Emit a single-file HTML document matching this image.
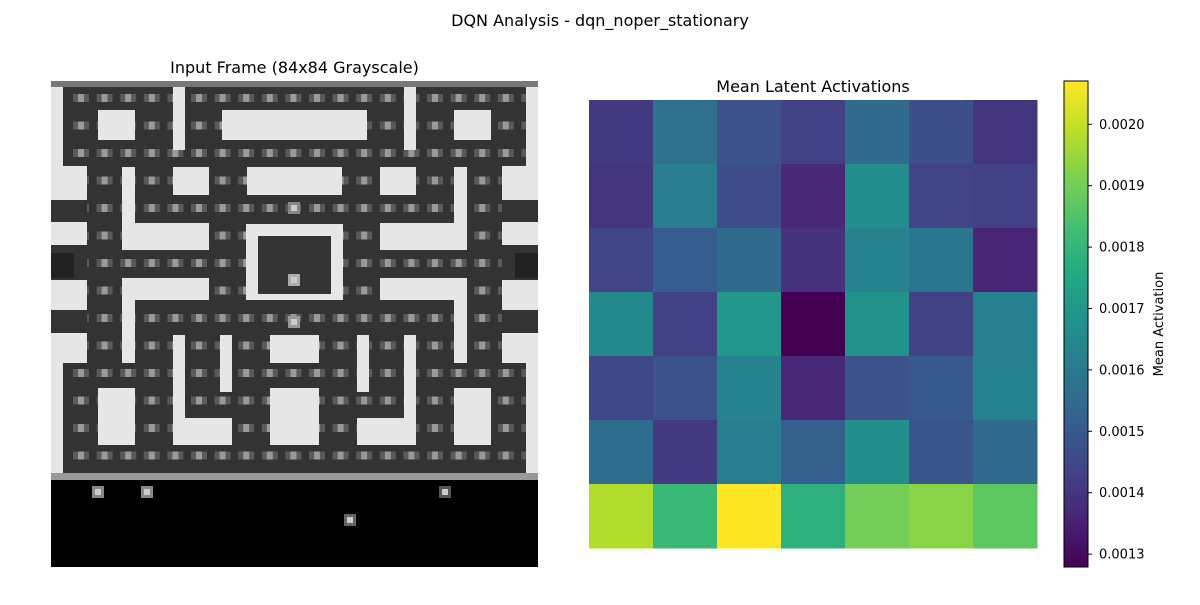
<!DOCTYPE html>
<html><head><meta charset="utf-8">
<style>
body{margin:0;background:#fff;font-family:"Liberation Sans","DejaVu Sans",sans-serif;}
svg text{font-family:"DejaVu Sans","Liberation Sans",sans-serif;fill:#000;}
</style></head>
<body>
<svg id="fig" width="1200" height="600" viewBox="0 0 1200 600" xmlns="http://www.w3.org/2000/svg">
<rect width="1200" height="600" fill="#fff"/>
<text x="600" y="26" font-size="16" text-anchor="middle">DQN Analysis - dqn_noper_stationary</text>
<text x="294.5" y="73" font-size="16" text-anchor="middle">Input Frame (84x84 Grayscale)</text>
<text x="813" y="92" font-size="16" text-anchor="middle">Mean Latent Activations</text>
<g id="frame"></g>
<g id="heat"></g>
<defs><linearGradient id="vir" x1="0" y1="1" x2="0" y2="0">
<stop offset="0" stop-color="#440154"/><stop offset="0.1" stop-color="#482475"/><stop offset="0.2" stop-color="#414487"/><stop offset="0.3" stop-color="#355f8d"/><stop offset="0.4" stop-color="#2a788e"/><stop offset="0.5" stop-color="#21918c"/><stop offset="0.6" stop-color="#22a884"/><stop offset="0.7" stop-color="#44bf70"/><stop offset="0.8" stop-color="#7ad151"/><stop offset="0.9" stop-color="#bddf26"/><stop offset="1" stop-color="#fde725"/>
</linearGradient></defs>
<rect x="1064" y="81" width="24" height="486" fill="url(#vir)" stroke="#000" stroke-width="1"/>
<g id="cbticks"></g>
<text transform="translate(1163,324) rotate(-90)" font-size="13" text-anchor="middle">Mean Activation</text>
</svg>
<script>
const NS="http://www.w3.org/2000/svg";
function mk(parent,tag,attrs){const e=document.createElementNS(NS,tag);for(const k in attrs)e.setAttribute(k,attrs[k]);parent.appendChild(e);return e;}

// ---- heatmap data ----
const heatRows=[
 [0.00141,0.00157,0.00148,0.00143,0.00155,0.00147,0.00140],
 [0.00140,0.00161,0.00146,0.00137,0.00166,0.00144,0.00143],
 [0.00144,0.00151,0.00155,0.00139,0.00163,0.00159,0.00136],
 [0.00165,0.00143,0.00170,0.00128,0.00168,0.00143,0.00162],
 [0.00145,0.00148,0.00163,0.00137,0.00148,0.00150,0.00163],
 [0.00156,0.00141,0.00161,0.00152,0.00167,0.00149,0.00155],
 [0.00198,0.00181,0.00207,0.00178,0.00190,0.00193,0.00187]
];
const cbTicks=[0.0013,0.0014,0.0015,0.0016,0.0017,0.0018,0.0019,0.0020];
const vmin=0.001279, vmax=0.0020705;

const vir=["#440154","#482475","#414487","#355f8d","#2a788e","#21918c","#22a884","#44bf70","#7ad151","#bddf26","#fde725"];
function hex(h){return[parseInt(h.substr(1,2),16),parseInt(h.substr(3,2),16),parseInt(h.substr(5,2),16)];}
function cmap(v){let f=Math.max(0,Math.min(1,(v-vmin)/(vmax-vmin)))*10;let i=Math.min(9,Math.floor(f));let t=f-i;const a=hex(vir[i]),b=hex(vir[i+1]);return "rgb("+a.map((x,j)=>Math.round(x+(b[j]-x)*t)).join(",")+")";}
const hx0=589,hy0=100,cw=64,ch=64;
const heat=document.getElementById('heat');
heatRows.forEach((row,r)=>row.forEach((v,c)=>{
 const e=mk(heat,'rect',{x:hx0+c*cw,y:hy0+r*ch,width:cw+0.5,height:ch+0.5,fill:cmap(v)});
 
 
}));
function cbY(v){return 567-(v-vmin)/(vmax-vmin)*486;}
const cbg=document.getElementById('cbticks');
cbTicks.forEach(v=>{
 const y=cbY(v);
 mk(cbg,'line',{x1:1088,x2:1092,y1:y,y2:y,stroke:'#000','stroke-width':1});
 const t=mk(cbg,'text',{x:1099,y:y+4.5,'font-size':13});
 t.textContent=v.toFixed(4);
 
 
});

// ---- pacman frame approximation ----
const fr=document.getElementById('frame');
const L="#e6e6e6",D="#333333";
function R(x1,y1,x2,y2,f,st){mk(fr,'rect',{x:x1,y:y1,width:x2-x1,height:y2-y1,fill:f}).setAttribute('style',st||'');}
R(51,81,538,480,D);
R(51,81,538,87,"#777");
// dots
for(let k=0;k<20;k++){for(let j=0;j<14;j++){const cx=81+23.6*k,cy=98+27.5*j;R(cx-8,cy-4,cx+8,cy+4,"#5a5a5a");R(cx-3,cy-4,cx+3,cy+4,"#9a9a9a");}}
function M(x1,y1,x2,y2,f){R(x1,y1,x2,y2,f);R(589-x2,y1,589-x1,y2,f);}
// outer side areas
M(51,87,63,166,L);
M(51,166,87,200,L);
M(51,200,87,222,"#333");
M(51,222,87,245,L);
M(51,245,87,280,"#333");M(51,253,74,278,"#222");
M(51,280,87,310,L);
M(51,310,87,333,"#333");
M(51,333,87,363,L);
M(51,363,63,473,L);
// top ring boxes
M(98,110,135,140,L);
M(173,87,185,150,L);
R(222,110,367,140,L);
// second band
M(122,167,135,250,L);M(122,223,209,250,L);
M(173,167,209,195,L);
R(247,167,342,195,L);
// ghost house
R(246,224,343,300,L);R(258,236,331,294,D);
// lower L
M(124,278,209,300,L);M(122,278,135,363,L);
// bottom area
M(173,335,185,445,L);M(173,418,232,445,L);
M(220,335,232,392,L);
R(270,335,319,363,L);R(270,388,319,445,L);
M(98,388,135,445,L);
R(51,473,538,480,"#999");
R(51,480,538,567,"#000");
// sprites
function S(cx,cy,c){R(cx-6,cy-6,cx+6,cy+6,c);R(cx-3,cy-3,cx+3,cy+3,"#ccc");}
S(294,208,"#888");S(294,280,"#aaa");S(294,322,"#999");
S(98,492,"#888");S(147,492,"#888");S(445,492,"#555");S(350,520,"#666");
</script>
</body></html>
